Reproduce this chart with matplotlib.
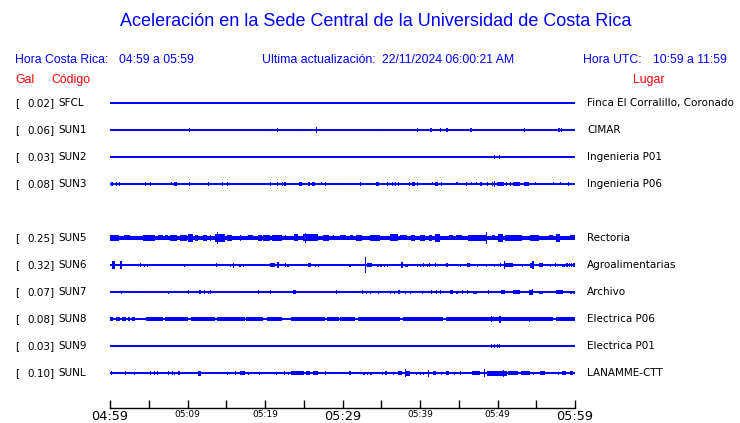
import matplotlib
matplotlib.use("Agg")
import matplotlib.pyplot as plt

# stations, top to bottom (SUN4 slot is empty in the original)
CODES = ["SFCL", "SUN1", "SUN2", "SUN3", "SUN5", "SUN6", "SUN7", "SUN8", "SUN9", "SUNL"]
SLOTS = [0, 1, 2, 3, 5, 6, 7, 8, 9, 10]
GAL = [0.02, 0.06, 0.03, 0.08, 0.25, 0.32, 0.07, 0.08, 0.03, 0.10]
PLACES = ["Finca El Corralillo, Coronado", "CIMAR", "Ingenieria P01", "Ingenieria P06",
          "Rectoria", "Agroalimentarias", "Archivo", "Electrica P06", "Electrica P01",
          "LANAMME-CTT"]

# time axis: minutes after 04:59 local
TICK_MIN = list(range(0, 61, 5))
TICK_LABELS = ["04:59", "", "05:09", "", "05:19", "", "05:29", "", "05:39", "", "05:49", "", "05:59"]
BIG_LABELS = ["04:59", "05:29", "05:59"]

# bursts: (start minute, end minute, half amplitude in trace units)
SFCL_EV = []
SUN1_EV = [(10.2, 10.2, 2), (20.8, 20.8, 1), (21.5, 21.5, 2), (24.4, 24.4, 1), (26.6, 26.6, 3),
           (34.5, 34.5, 1), (39.6, 39.6, 2), (41.3, 41.5, 2), (42.6, 42.6, 2), (43.4, 43.4, 2),
           (46.5, 46.5, 2), (53.4, 53.6, 2), (57.8, 58.0, 2), (58.2, 58.2, 2)]
SUN2_EV = [(49.5, 49.5, 2), (50.2, 50.2, 2), (53.8, 53.8, 1)]
SUN3_EV = [(0.1, 0.1, 2), (0.3, 0.3, 2), (0.8, 0.8, 2), (1.2, 1.2, 2), (4.5, 4.7, 2), (5.1, 5.1, 2),
           (6.6, 6.6, 1), (7.7, 7.7, 1), (7.9, 7.9, 1.5), (8.2, 8.6, 2), (10.2, 10.2, 2), (10.5, 10.5, 1),
           (12.6, 12.6, 2), (14.4, 14.6, 2), (15.1, 15.1, 2), (15.7, 15.7, 1), (16.0, 16.0, 1),
           (20.6, 20.6, 2), (21.5, 21.5, 2), (22.2, 22.2, 2), (22.5, 22.5, 2), (23.1, 23.1, 1),
           (24.4, 24.8, 2), (25.6, 25.6, 2), (26.1, 26.5, 2), (27.2, 27.2, 1.5), (27.7, 27.7, 2),
           (30.5, 30.5, 1), (30.9, 30.9, 1), (31.5, 31.5, 1), (32.3, 32.3, 2), (34.3, 34.7, 2),
           (35.7, 35.7, 2), (36.1, 36.1, 1), (36.4, 36.4, 2), (36.8, 36.8, 2), (37.2, 37.2, 2),
           (38.3, 38.3, 1), (38.6, 38.6, 2), (39.0, 39.3, 2), (39.6, 39.6, 2), (41.5, 41.5, 1.5),
           (41.9, 42.3, 2), (42.7, 42.7, 2), (43.4, 43.4, 1), (44.0, 44.0, 1), (44.7, 44.7, 1.5),
           (45.9, 45.9, 2), (46.6, 46.6, 1.5), (47.2, 47.2, 1.5), (47.7, 48.0, 2), (48.6, 48.6, 2),
           (49.3, 49.3, 2), (49.5, 49.5, 3), (49.9, 50.8, 2), (51.1, 51.1, 2), (51.6, 51.6, 2),
           (52.0, 52.9, 2), (53.4, 54.1, 2), (54.8, 54.8, 1.5), (55.1, 55.1, 1), (55.4, 55.4, 1),
           (57.1, 57.1, 1.5), (58.1, 58.1, 1.5), (59.1, 59.1, 2)]
SUN5_EV = [(0, 60, 1.8), (0, 1.1, 3), (1.8, 2.6, 2.5), (4.3, 5.8, 3), (6.2, 6.9, 2.5), (7.1, 7.5, 2.5),
           (7.7, 8.6, 3), (9.0, 9.9, 3), (10.1, 10.7, 4), (11.0, 11.4, 3), (12.0, 12.5, 3),
           (12.9, 12.9, 3), (13.5, 14.8, 4), (13.8, 13.8, 6), (15.1, 15.7, 3), (16.8, 16.8, 3),
           (17.8, 18.5, 2.5), (19.1, 19.6, 3), (19.8, 20.6, 3), (20.9, 22.2, 3), (22.6, 22.6, 2.5),
           (23.7, 24.3, 3.5), (24.9, 26.9, 3.5), (25.2, 25.2, 5), (27.5, 28.2, 3), (28.8, 28.8, 2.5),
           (29.7, 30.5, 2.5), (31.0, 31.4, 2.5), (31.8, 32.5, 3), (33.5, 34.8, 3), (36.1, 37.2, 3.5),
           (37.4, 38.3, 2.5), (38.9, 39.4, 3), (40.0, 40.6, 3), (41.1, 41.5, 3), (41.9, 42.6, 4),
           (43.7, 44.3, 2.5), (44.7, 45.4, 2.5), (46.2, 48.6, 3), (48.5, 48.5, 6), (49.3, 49.7, 2.5),
           (50.1, 50.7, 4), (51.0, 53.1, 3), (54.2, 55.3, 3), (56.6, 57.2, 2.5), (57.6, 58.1, 4),
           (59.4, 60, 2.5)]
SUN6_EV = [(0.2, 0.6, 4), (1.3, 1.5, 4), (3.1, 3.1, 1), (3.9, 3.9, 2), (4.4, 4.4, 1.5), (4.8, 4.8, 1.5),
           (8.3, 8.3, 1), (9.5, 9.5, 1.5), (13.7, 13.7, 2), (15.5, 15.5, 1.5), (15.9, 15.9, 2.5),
           (16.7, 16.7, 1.5), (17.1, 17.1, 1.5), (18.5, 18.5, 1), (19.9, 19.9, 1), (20.6, 21.3, 2),
           (21.6, 21.6, 3), (22.6, 22.6, 2), (22.9, 22.9, 1.5), (23.7, 23.7, 1), (25.6, 25.9, 2),
           (26.4, 26.4, 1.5), (26.8, 26.8, 1.5), (30.0, 30.0, 1), (30.9, 30.9, 1.5), (32.9, 32.9, 8),
           (33.1, 33.8, 2), (34.5, 34.5, 1.5), (34.9, 34.9, 1.5), (35.3, 35.3, 1.5), (35.7, 35.7, 1.5),
           (37.6, 37.6, 3), (38.1, 38.5, 1.5), (39.6, 39.6, 1.5), (40.0, 40.0, 1.5), (40.4, 40.4, 2),
           (40.9, 40.9, 1.5), (41.2, 41.2, 2), (41.9, 41.9, 2), (43.4, 43.4, 2), (44.7, 44.7, 1),
           (45.2, 45.2, 1.5), (46.0, 46.4, 2), (47.3, 47.3, 1.5), (48.5, 48.5, 1.5), (49.5, 49.5, 1.5),
           (50.3, 50.3, 2), (50.8, 50.8, 4), (51.0, 52.0, 2), (53.1, 53.1, 1.5), (54.2, 54.6, 2.5),
           (54.5, 54.5, 4), (55.3, 55.9, 2), (56.8, 56.8, 1.5), (57.4, 57.6, 2), (58.3, 58.7, 1.5),
           (58.9, 58.9, 2), (59.2, 59.2, 2), (59.5, 59.5, 2), (59.8, 59.8, 2)]
SUN7_EV = [(0.9, 0.9, 1), (1.4, 1.4, 1.5), (2.1, 2.1, 1), (3.3, 3.3, 1), (7.5, 7.5, 1.5), (10.0, 10.2, 2),
           (11.5, 11.7, 2), (12.1, 12.1, 2), (12.6, 12.6, 1.5), (12.9, 12.9, 2), (13.3, 13.3, 1),
           (17.1, 17.1, 1), (18.0, 18.0, 1), (19.1, 19.1, 2), (20.6, 20.6, 2), (21.2, 21.2, 1),
           (23.3, 23.3, 1), (23.6, 24.0, 2), (29.2, 29.2, 2), (31.0, 31.0, 1), (31.4, 31.4, 1),
           (32.5, 32.5, 2), (33.0, 33.0, 1.5), (33.5, 33.5, 1.5), (34.6, 34.6, 1.5), (36.1, 36.1, 1.5),
           (36.6, 36.6, 1.5), (37.2, 37.4, 2), (38.1, 38.1, 1.5), (38.7, 38.7, 1.5), (40.2, 40.2, 1.5),
           (41.4, 41.6, 2), (42.1, 42.1, 2), (42.6, 42.6, 2), (43.9, 44.3, 2), (44.7, 44.7, 1.5),
           (45.4, 45.6, 2), (46.0, 46.0, 2), (46.9, 47.3, 1.5), (48.8, 48.8, 2), (50.5, 51.0, 2),
           (52.0, 52.9, 2), (54.0, 54.6, 2.5), (54.4, 54.4, 3), (55.4, 55.9, 1.5), (57.6, 58.5, 2),
           (59.4, 59.4, 1.5), (59.8, 59.8, 1.5)]
SUN8_EV = [(0.0, 0.4, 2), (0.8, 1.3, 2), (1.6, 2.0, 2), (2.3, 2.6, 2), (2.9, 3.2, 2), (4.0, 4.0, 1),
           (4.4, 4.4, 1), (4.7, 6.9, 2), (7.1, 10.1, 2), (10.5, 13.5, 2), (13.8, 17.4, 2),
           (17.6, 19.8, 2), (20.2, 22.2, 2), (23.4, 27.7, 2), (28.0, 29.5, 2), (29.7, 31.6, 2),
           (32.0, 37.4, 2), (37.8, 43.0, 2), (43.4, 57.2, 2), (57.6, 60.0, 2), (49.2, 49.2, 3),
           (50.2, 50.5, 3.5), (54.0, 54.0, 2.5)]
SUN9_EV = [(49.2, 49.2, 2), (49.5, 49.5, 2), (49.9, 49.9, 2), (50.2, 50.2, 2)]
SUNL_EV = [(0.1, 0.1, 2), (0.8, 0.8, 1), (1.9, 1.9, 2), (3.1, 3.1, 1.5), (5.2, 5.3, 2), (5.7, 5.7, 2),
           (6.1, 6.2, 2), (7.5, 7.6, 2), (8.0, 8.0, 2), (8.3, 8.3, 1.5), (8.8, 9.0, 2), (10.0, 10.0, 1),
           (10.5, 10.5, 1), (11.4, 11.8, 2.5), (14.0, 14.0, 1), (15.1, 15.1, 1.5), (15.7, 15.7, 1),
           (16.1, 16.1, 2), (16.8, 17.4, 2), (17.8, 17.8, 1.5), (19.2, 19.2, 1.5), (20.0, 20.0, 1),
           (21.4, 21.4, 1.5), (22.4, 22.4, 2), (23.0, 23.0, 1.5), (23.4, 25.0, 2), (25.3, 25.8, 2),
           (26.2, 26.9, 2), (27.7, 27.7, 2), (28.6, 28.6, 1), (30.9, 30.9, 2), (32.7, 32.7, 1.5),
           (33.1, 33.1, 1.5), (33.5, 33.8, 1.5), (35.1, 35.1, 1.5), (35.5, 35.7, 2), (36.5, 36.5, 1.5),
           (37.2, 37.7, 2), (38.0, 38.0, 4), (38.2, 38.7, 2.5), (39.5, 39.5, 1.5), (40.0, 40.0, 1.5),
           (40.4, 40.4, 1.5), (41.0, 41.0, 3.5), (41.7, 42.1, 2), (42.7, 42.7, 1.5), (43.4, 43.7, 2),
           (44.4, 44.4, 1.5), (45.2, 45.2, 2), (46.7, 47.7, 2), (48.3, 48.3, 4), (48.6, 51.2, 2.5),
           (50.7, 50.7, 3.5), (51.4, 52.6, 2), (53.0, 54.2, 2), (54.6, 54.6, 1.5), (55.5, 56.1, 2),
           (57.8, 57.8, 1.5), (58.3, 58.9, 2), (59.4, 59.8, 2)]

EVENTS = [SFCL_EV, SUN1_EV, SUN2_EV, SUN3_EV, SUN5_EV, SUN6_EV, SUN7_EV, SUN8_EV, SUN9_EV, SUNL_EV]

BLUE = "#0000ff"
RED = "#ff0000"
W, H = 740, 423
AMP_SCALE = 1 / 27.0   # trace units -> slot spacing


def fx(px):
    return px / W


def fy(py):
    return 1 - py / H


fig = plt.figure(figsize=(W / 100, H / 100), dpi=100)
fig.patch.set_facecolor("white")

# header
fig.text(fx(376), fy(22), "Aceleración en la Sede Central de la Universidad de Costa Rica",
         family="Liberation Sans", fontsize=13, color=BLUE, ha="center", va="center")
hdr = dict(family="Liberation Sans", fontsize=8.8, color=BLUE, va="center")
fig.text(fx(15), fy(60), "Hora Costa Rica:", **hdr)
fig.text(fx(119), fy(60), "04:59 a 05:59", **hdr)
fig.text(fx(262), fy(60), "Ultima actualización:", **hdr)
fig.text(fx(382), fy(60), "22/11/2024 06:00:21 AM", **hdr)
fig.text(fx(583), fy(60), "Hora UTC:", **hdr)
fig.text(fx(653), fy(60), "10:59 a 11:59", **hdr)
red = dict(family="Liberation Sans", fontsize=8.8, color=RED, va="center")
fig.text(fx(15), fy(80), "Gal", **red)
fig.text(fx(51), fy(80), "Código", **red)
fig.text(fx(633), fy(80), "Lugar", **red)

# trace area: x 110..575 px, bottom axis at 408 px
ax = fig.add_axes([fx(110), fy(408), (575 - 110) / W, (408 - 90) / H])
ax.set_xlim(0, 60)
ax.set_ylim(10 + 35 / 27, -13 / 27)
for s in ["top", "left", "right"]:
    ax.spines[s].set_visible(False)
ax.spines["bottom"].set_linewidth(1.0)
ax.set_yticks([])
ax.set_xticks(TICK_MIN, TICK_LABELS)
ax.tick_params(axis="x", direction="in", length=6, width=1, pad=1.5)
for lab in ax.get_xticklabels():
    lab.set_fontsize(9.3 if lab.get_text() in BIG_LABELS else 6.5)
    lab.set_family("DejaVu Sans")

lbl = dict(family="DejaVu Sans", fontsize=7.5, color="black", va="center")
for code, slot, gal, place, events in zip(CODES, SLOTS, GAL, PLACES, EVENTS):
    ax.hlines(slot, 0, 60, color=BLUE, lw=1.4)
    for t0, t1, amp in events:
        a = amp * AMP_SCALE
        ax.bar(t0, 2 * a, width=max(t1 - t0, 0.15), bottom=slot - a, align="edge",
               color=BLUE, linewidth=0)
    y = fy(103 + 27 * slot)
    fig.text(fx(15), y, "[", **lbl)
    fig.text(fx(55), y, f"{gal:.2f}]", ha="right", **lbl)
    fig.text(fx(58), y, code, **lbl)
    fig.text(fx(587), y, place, **lbl)

fig.savefig("out.png", dpi=100)
